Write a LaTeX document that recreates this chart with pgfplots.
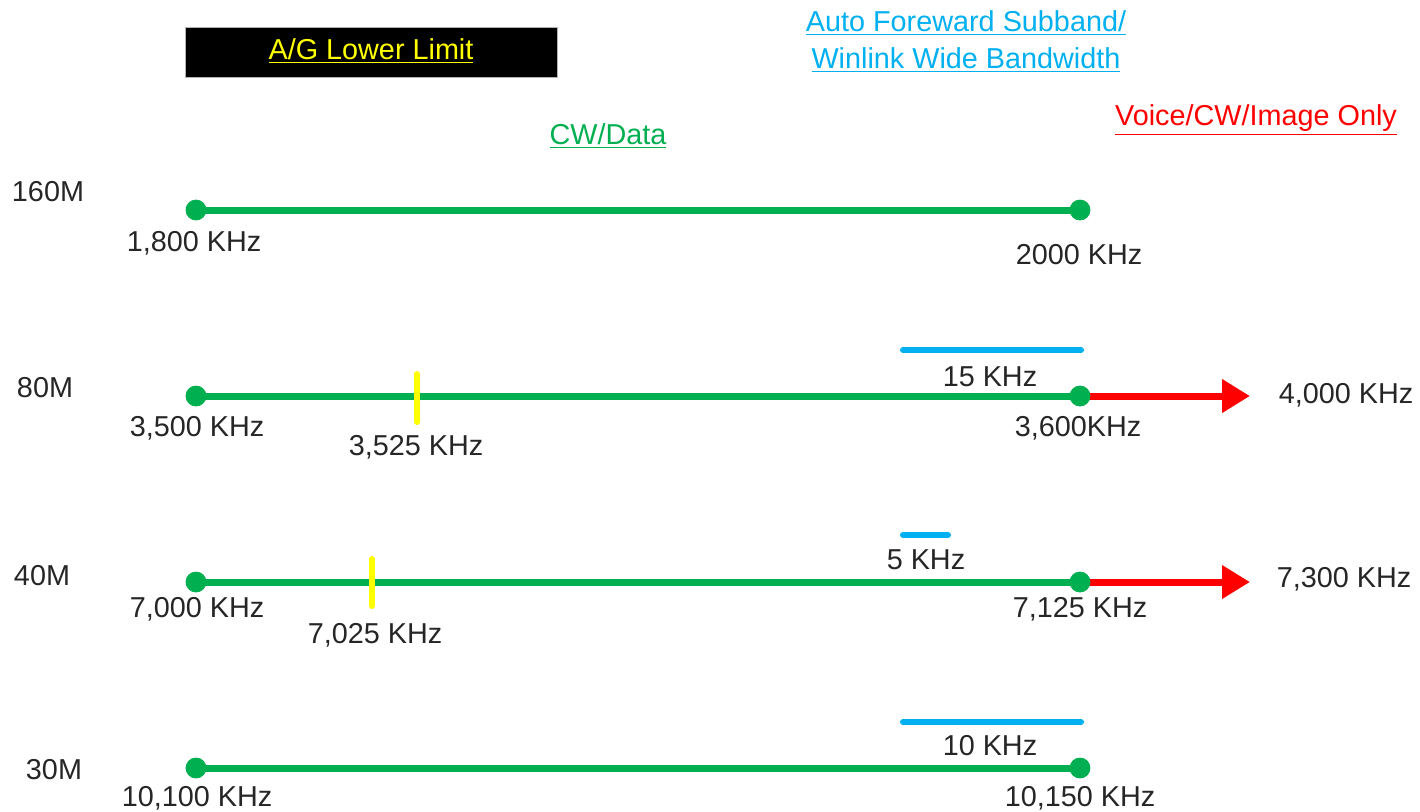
\documentclass[border=0pt]{standalone}
\usepackage{pgfplots}
\pgfplotsset{compat=1.18}
\usepackage{fontspec}
\setmainfont{Liberation Sans}
\usetikzlibrary{arrows.meta}
\definecolor{bgreen}{RGB}{0,176,80}
\definecolor{bblue}{RGB}{0,176,240}
\definecolor{bred}{RGB}{255,0,0}
\definecolor{byellow}{RGB}{255,255,0}
\definecolor{txt}{RGB}{38,38,38}
\begin{document}
\begin{tikzpicture}[font=\fontsize{14.4}{17}\selectfont, text=txt]
\begin{axis}[
  width=710pt, height=405.5pt, scale only axis,
  xmin=0, xmax=1420, ymin=0, ymax=811, y dir=reverse,
  hide axis, clip=false,
]
% black box
\fill[black, draw=black!30] (axis cs:185,27) rectangle (axis cs:557,77);
\node[text=byellow] at (axis cs:371,51) {\underline{A/G Lower Limit}};
\node[text=bblue] at (axis cs:966,23) {\underline{Auto Foreward Subband/}};
\node[text=bblue] at (axis cs:966,60) {\underline{Winlink Wide Bandwidth}};
\node[text=bred] at (axis cs:1256,120) {\underline{Voice/CW/Image Only}};
\node[text=bgreen] at (axis cs:608,136) {\underline{CW/Data}};

% green lines
\addplot[bgreen, line width=3.5pt] coordinates {(196,210) (1080,210)};
\addplot[bgreen, line width=3.5pt] coordinates {(196,396) (1080,396)};
\addplot[bgreen, line width=3.5pt] coordinates {(196,582) (1080,582)};
\addplot[bgreen, line width=3.5pt] coordinates {(196,768) (1080,768)};
% red arrows
\addplot[bred, line width=3.5pt, -{Triangle[length=14pt,width=16pt]}] coordinates {(1080,396) (1250,396)};
\addplot[bred, line width=3.5pt, -{Triangle[length=14pt,width=16pt]}] coordinates {(1080,582) (1250,582)};
% dots
\addplot[only marks, mark=*, mark size=5pt, bgreen, mark options={draw=bgreen, fill=bgreen}] coordinates {
 (196,210) (1080,210) (196,396) (1080,396) (196,582) (1080,582) (196,768) (1080,768)};
% yellow ticks
\addplot[byellow, line width=3pt, line cap=round] coordinates {(417,374) (417,422)};
\addplot[byellow, line width=3pt, line cap=round] coordinates {(372,559) (372,606)};
% blue bars
\addplot[bblue, line width=3pt, line cap=round] coordinates {(903,350) (1081,350)};
\addplot[bblue, line width=3pt, line cap=round] coordinates {(903,535) (948,535)};
\addplot[bblue, line width=3pt, line cap=round] coordinates {(903,722) (1081,722)};

% band labels
\node at (axis cs:48,192) {160M};
\node at (axis cs:45,388) {80M};
\node at (axis cs:42,576) {40M};
\node at (axis cs:54,770) {30M};
% frequency labels
\node at (axis cs:194,243) {1,800 KHz};
\node at (axis cs:1079,255) {2000 KHz};
\node at (axis cs:197,428) {3,500 KHz};
\node at (axis cs:416,447) {3,525 KHz};
\node at (axis cs:990,377) {15 KHz};
\node at (axis cs:1078,428) {3,600KHz};
\node at (axis cs:1346,395) {4,000 KHz};
\node at (axis cs:197,609) {7,000 KHz};
\node at (axis cs:375,635) {7,025 KHz};
\node at (axis cs:926,560) {5 KHz};
\node at (axis cs:1080,609) {7,125 KHz};
\node at (axis cs:1344,579) {7,300 KHz};
\node at (axis cs:197,798) {10,100 KHz};
\node at (axis cs:990,746) {10 KHz};
\node at (axis cs:1080,798) {10,150 KHz};
\end{axis}
\pgfresetboundingbox
\path[use as bounding box] (current axis.south west) rectangle (current axis.north east);
\end{tikzpicture}
\end{document}
